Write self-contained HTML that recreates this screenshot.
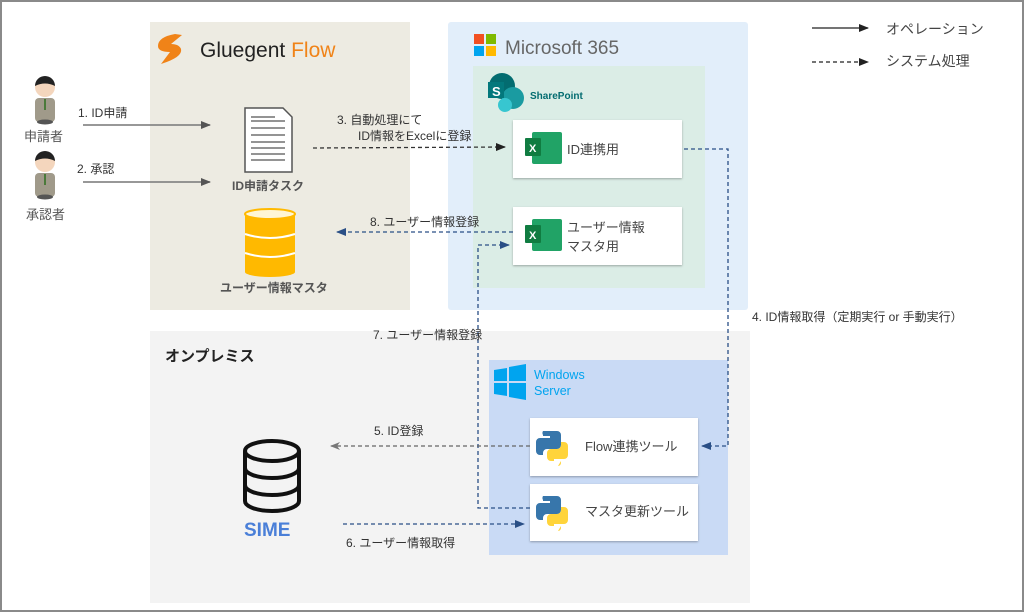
<!DOCTYPE html>
<html><head><meta charset="utf-8"><style>
html,body{margin:0;padding:0;background:#fff}
svg{display:block;font-family:"Liberation Sans","Noto Sans CJK JP",sans-serif}
</style></head><body>
<svg width="1024" height="612" viewBox="0 0 1024 612" xmlns="http://www.w3.org/2000/svg">
<defs>
<marker id="ag" markerWidth="10" markerHeight="8" refX="9" refY="4" orient="auto" markerUnits="userSpaceOnUse"><path d="M0,0 L10,4 L0,8z" fill="#555"/></marker>
<marker id="ak" markerWidth="10" markerHeight="8" refX="9" refY="4" orient="auto" markerUnits="userSpaceOnUse"><path d="M0,0 L10,4 L0,8z" fill="#222"/></marker>
<marker id="ab" markerWidth="10" markerHeight="8" refX="9" refY="4" orient="auto" markerUnits="userSpaceOnUse"><path d="M0,0 L10,4 L0,8z" fill="#2a4f86"/></marker>
<marker id="aw" markerWidth="10" markerHeight="8" refX="9" refY="4" orient="auto" markerUnits="userSpaceOnUse"><path d="M0,0 L10,4 L0,8 L3,4z" fill="#777"/></marker>
<filter id="sh"><feDropShadow dx="0" dy="1" stdDeviation="1" flood-opacity="0.3"/></filter>
</defs>
<rect x="1" y="1" width="1022" height="610" fill="#fff" stroke="#8a8a8a" stroke-width="2"/>
<rect x="150" y="22" width="260" height="288" fill="#edebe2"/>
<rect x="448" y="22" width="300" height="288" rx="3" fill="#e2eefa"/>
<rect x="473" y="66" width="232" height="222" fill="#dbede6"/>
<rect x="150" y="331" width="600" height="272" fill="#f3f3f3"/>
<rect x="489" y="360" width="239" height="195" fill="#c9daf5"/>
<path d="M175,34 q-17,3 -17,12 q0,6 12,6 l-9,12 q22,-7 20,-15 q-2,-5 -10,-5 l11,-9z" fill="#f08318"/>
<text x="200" y="57" font-size="21" fill="#222">Gluegent <tspan fill="#f08318">Flow</tspan></text>
<rect x="474" y="34" width="10" height="10" fill="#f25022"/><rect x="486" y="34" width="10" height="10" fill="#7fba00"/>
<rect x="474" y="46" width="10" height="10" fill="#00a4ef"/><rect x="486" y="46" width="10" height="10" fill="#ffb900"/>
<text x="505" y="54" font-size="19" fill="#666">Microsoft 365</text>
<circle cx="502" cy="86" r="13" fill="#036c70"/><circle cx="513" cy="98" r="11" fill="#1a9ba1"/><circle cx="505" cy="105" r="7" fill="#37c6d0"/>
<rect x="488" y="82" width="16" height="16" fill="#03787c"/><text x="492" y="96" font-size="13" font-weight="bold" fill="#fff">S</text>
<text x="530" y="99" font-size="10" fill="#036c70" font-weight="bold">SharePoint</text>
<g filter="url(#sh)"><rect x="513" y="120" width="169" height="58" fill="#fff"/><rect x="513" y="207" width="169" height="58" fill="#fff"/></g>
<g><rect x="532" y="132" width="30" height="32" rx="2" fill="#21a366"/><rect x="525" y="138" width="16" height="18" rx="1" fill="#107c41"/><text x="529" y="152" font-size="11" font-weight="bold" fill="#fff">X</text></g>
<g><rect x="532" y="219" width="30" height="32" rx="2" fill="#21a366"/><rect x="525" y="225" width="16" height="18" rx="1" fill="#107c41"/><text x="529" y="239" font-size="11" font-weight="bold" fill="#fff">X</text></g>
<text x="567" y="154" font-size="13" fill="#444">ID連携用</text>
<text x="567" y="232" font-size="13" fill="#444">ユーザー情報</text>
<text x="567" y="251" font-size="13" fill="#444">マスタ用</text>
<path d="M494,370 l13,-2 v13 h-13z M509,367 l17,-3 v17 h-17z M494,383 h13 v13 l-13,-2z M509,383 h17 v17 l-17,-3z" fill="#00a4ef"/>
<text x="534" y="379" font-size="12.5" fill="#00a4ef">Windows</text>
<text x="534" y="395" font-size="12.5" fill="#00a4ef">Server</text>
<g filter="url(#sh)"><rect x="530" y="418" width="168" height="58" fill="#fff"/><rect x="530" y="484" width="168" height="57" fill="#fff"/></g>
<g id="py"><path d="M547,431 h10 a4,4 0 0 1 4,4 v10 a4,4 0 0 1 -4,4 h-10 a4,4 0 0 0 -4,4 v2 h-3 a4,4 0 0 1 -4,-4 v-9 a4,4 0 0 1 4,-4 h10 v-2 h-7 v-1 a4,4 0 0 1 0,-4z" fill="#3776ab"/>
<path d="M561,461 h-10 a4,4 0 0 1 -4,-4 v-4 a4,4 0 0 1 4,-4 h6 a4,4 0 0 0 4,-4 v-3 h3 a4,4 0 0 1 4,4 v9 a4,4 0 0 1 -4,4 h-10 v2 h7 v2 a3,3 0 0 1 -3,3z" fill="#ffd43b"/></g>
<use href="#py" y="65"/>
<text x="585" y="451" font-size="13" fill="#444">Flow連携ツール</text>
<text x="585" y="516" font-size="13" fill="#444">マスタ更新ツール</text>
<g id="pp"><circle cx="45" cy="87" r="10" fill="#f4d6bd"/><path d="M35,86 a10,10 0 0 1 20,0 q-10,-5 -20,0z" fill="#222"/><rect x="35" y="98" width="20" height="24" rx="4" fill="#a09a8a"/><rect x="44" y="99" width="2" height="11" fill="#4a7a3a"/><ellipse cx="45" cy="122" rx="8" ry="2.5" fill="#555"/></g>
<use href="#pp" y="75"/>
<text x="24" y="141" font-size="13" fill="#555">申請者</text>
<text x="26" y="219" font-size="13" fill="#555">承認者</text>
<path d="M245,108 h38 l9,9 v55 h-47z" fill="#fff" stroke="#555" stroke-width="1.5"/>
<g stroke="#555" stroke-width="1.3"><line x1="251" y1="117" x2="275" y2="117"/><line x1="251" y1="121" x2="285" y2="121"/><line x1="251" y1="128" x2="285" y2="128"/><line x1="251" y1="135" x2="285" y2="135"/><line x1="251" y1="142" x2="285" y2="142"/><line x1="251" y1="148" x2="285" y2="148"/><line x1="251" y1="154" x2="285" y2="154"/><line x1="251" y1="160" x2="285" y2="160"/></g>
<text x="232" y="190" font-size="12" font-weight="bold" fill="#555">ID申請タスク</text>
<g><rect x="245" y="214" width="50" height="58" fill="#ffb900"/><ellipse cx="270" cy="272" rx="25" ry="5" fill="#ffb900"/><ellipse cx="270" cy="214" rx="25" ry="5" fill="#fff6d5" stroke="#ffb900" stroke-width="2"/>
<path d="M245,234 q25,8 50,0 M245,253 q25,8 50,0" stroke="#fff" stroke-width="2" fill="none"/></g>
<text x="220" y="292" font-size="12" font-weight="bold" fill="#555">ユーザー情報マスタ</text>
<text x="165" y="361" font-size="15" font-weight="bold" fill="#222">オンプレミス</text>
<g fill="none" stroke="#111" stroke-width="4"><ellipse cx="272" cy="451" rx="27" ry="10"/><path d="M245,451 v50 a27,10 0 0 0 54,0 v-50 M245,468 a27,10 0 0 0 54,0 M245,485 a27,10 0 0 0 54,0"/></g>
<text x="244" y="536" font-size="19" font-weight="bold" fill="#4a7fd8">SIME</text>
<line x1="83" y1="125" x2="210" y2="125" stroke="#777" stroke-width="1.5" marker-end="url(#ag)"/>
<line x1="83" y1="182" x2="210" y2="182" stroke="#777" stroke-width="1.5" marker-end="url(#ag)"/>
<text x="78" y="117" font-size="12" fill="#333">1.  ID申請</text>
<text x="77" y="173" font-size="12" fill="#333">2.  承認</text>
<line x1="313" y1="148" x2="505" y2="147" stroke="#333" stroke-width="1.3" stroke-dasharray="4,3" marker-end="url(#ak)"/>
<text x="337" y="124" font-size="12" fill="#333">3.  自動処理にて</text>
<text x="358" y="140" font-size="12" fill="#333">ID情報をExcelに登録</text>
<g stroke="#2a4f86" stroke-width="1.3" stroke-dasharray="4,3" fill="none">
<polyline points="684,149 728,149 728,446 702,446" marker-end="url(#ab)"/>
<line x1="513" y1="232" x2="337" y2="232" marker-end="url(#ab)"/>
<polyline points="530,508 478,508 478,245 509,245" marker-end="url(#ab)"/>
<line x1="343" y1="524" x2="524" y2="524" marker-end="url(#ab)"/>
</g>
<line x1="530" y1="446" x2="331" y2="446" stroke="#666" stroke-width="1.3" stroke-dasharray="4,3" marker-end="url(#aw)"/>
<text x="370" y="226" font-size="12" fill="#333">8.  ユーザー情報登録</text>
<text x="373" y="339" font-size="12" fill="#333">7.  ユーザー情報登録</text>
<text x="374" y="435" font-size="12" fill="#333">5.  ID登録</text>
<text x="346" y="547" font-size="12" fill="#333">6.  ユーザー情報取得</text>
<text x="752" y="321" font-size="12" fill="#333">4.  ID情報取得（定期実行 or 手動実行）</text>
<line x1="812" y1="28" x2="868" y2="28" stroke="#222" stroke-width="1.3" marker-end="url(#ak)"/>
<line x1="812" y1="62" x2="868" y2="62" stroke="#222" stroke-width="1.3" stroke-dasharray="4,3" marker-end="url(#ak)"/>
<text x="886" y="34" font-size="14" fill="#444">オペレーション</text>
<text x="886" y="66" font-size="14" fill="#444">システム処理</text>
</svg>
</body></html>
